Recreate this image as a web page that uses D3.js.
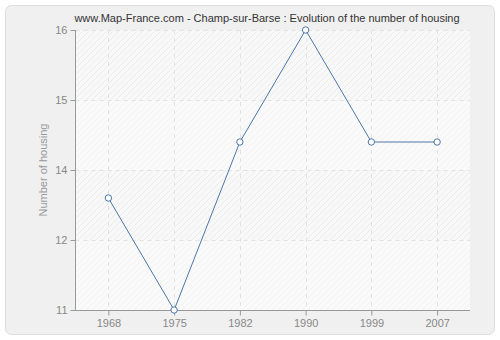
<!DOCTYPE html>
<html><head><meta charset="utf-8">
<script src="https://cdn.jsdelivr.net/npm/d3@7"></script>
<style>body{margin:0;background:#fff}svg{display:block}</style>
</head><body>
<script>
const years = ["1968","1975","1982","1990","1999","2007"];
const housing = [13, 11, 14, 16, 14, 14];
const yTicks = [11, 12.25, 13.5, 14.75, 16];
const yTickLabels = ["11","12","14","15","16"];
const title = "www.Map-France.com - Champ-sur-Barse : Evolution of the number of housing";
const yTitle = "Number of housing";

(function () {
const W = 500, H = 340;
const svg = d3.select("body").append("svg").attr("width", W).attr("height", H);
const font = "Liberation Sans, Arial, sans-serif";

const defs = svg.append("defs");
function hatch(id, bg, line) {
  const p = defs.append("pattern").attr("id", id).attr("patternUnits", "userSpaceOnUse")
    .attr("width", 6).attr("height", 6);
  p.append("rect").attr("width", 6).attr("height", 6).attr("fill", bg);
  p.append("path").attr("d", "M-1,1 l2,-2 M0,6 l6,-6 M5,7 l2,-2").attr("stroke", line).attr("stroke-width", 1);
}
hatch("hDark", "#f8f8f8", "#ececec");
hatch("hLight", "#fafafa", "#f3f3f3");

svg.append("rect").attr("x", 5.5).attr("y", 5.5).attr("width", 489).attr("height", 329)
  .attr("rx", 6).attr("fill", "#f0f0f0").attr("stroke", "#dcdcdc");

const pl = 75.5, pr = 470, pt = 30, pb = 310;
const x = d3.scalePoint().domain(years).range([pl, pr]).padding(0.5);
const y = d3.scaleLinear().domain([11, 16]).range([pb, pt]);

for (let i = 0; i < yTicks.length - 1; i++) {
  svg.append("rect").attr("x", pl).attr("width", pr - pl)
    .attr("y", y(yTicks[i + 1])).attr("height", y(yTicks[i]) - y(yTicks[i + 1]))
    .attr("fill", i % 2 === 0 ? "url(#hLight)" : "url(#hDark)");
}

const g = svg.append("g");
g.selectAll(".gy").data(yTicks.slice(1)).enter().append("line")
  .attr("x1", pl).attr("x2", pr).attr("y1", d => Math.round(y(d)) + 0.5).attr("y2", d => Math.round(y(d)) + 0.5)
  .attr("stroke", "#e2e2e2").attr("stroke-dasharray", "4,4");
g.selectAll(".gx").data(years).enter().append("line")
  .attr("y1", pt).attr("y2", pb).attr("x1", d => Math.round(x(d)) + 0.5).attr("x2", d => Math.round(x(d)) + 0.5)
  .attr("stroke", "#e2e2e2").attr("stroke-dasharray", "4,4");

const yAxis = d3.axisLeft(y).tickValues(yTicks).tickSize(5).tickPadding(3)
  .tickFormat((d, i) => yTickLabels[i]);
const ya = svg.append("g").attr("transform", `translate(${pl},0)`).call(yAxis);
const xAxis = d3.axisBottom(x).tickSize(5).tickPadding(4);
const xa = svg.append("g").attr("transform", `translate(0,${pb + 0.5})`).call(xAxis);
[ya, xa].forEach(a => {
  a.select(".domain").attr("stroke", "#999");
  a.selectAll(".tick line").attr("stroke", "#999");
  a.selectAll("text").attr("fill", "#888").attr("font-family", font).attr("font-size", 11);
});
ya.select(".domain").attr("d", `M0,${pt}V${pb + 0.5}`);
xa.select(".domain").attr("d", `M${pl},0H${pr}`);

const line = d3.line().x((d, i) => x(years[i])).y(d => y(d));
svg.append("path").datum(housing).attr("d", line).attr("fill", "none")
  .attr("stroke", "#4d77a8").attr("stroke-width", 1);
svg.selectAll(".pt").data(housing).enter().append("circle")
  .attr("cx", (d, i) => x(years[i])).attr("cy", d => y(d)).attr("r", 3.2)
  .attr("fill", "#fff").attr("stroke", "#4d77a8").attr("stroke-width", 1);

svg.append("text").attr("x", 267).attr("y", 22).attr("text-anchor", "middle")
  .attr("font-family", font).attr("font-size", 11).attr("fill", "#333").text(title);
svg.append("text").attr("transform", `translate(47,${(pt + pb) / 2}) rotate(-90)`)
  .attr("text-anchor", "middle").attr("font-family", font).attr("font-size", 11)
  .attr("fill", "#999").text(yTitle);
})();
</script>
</body></html>
